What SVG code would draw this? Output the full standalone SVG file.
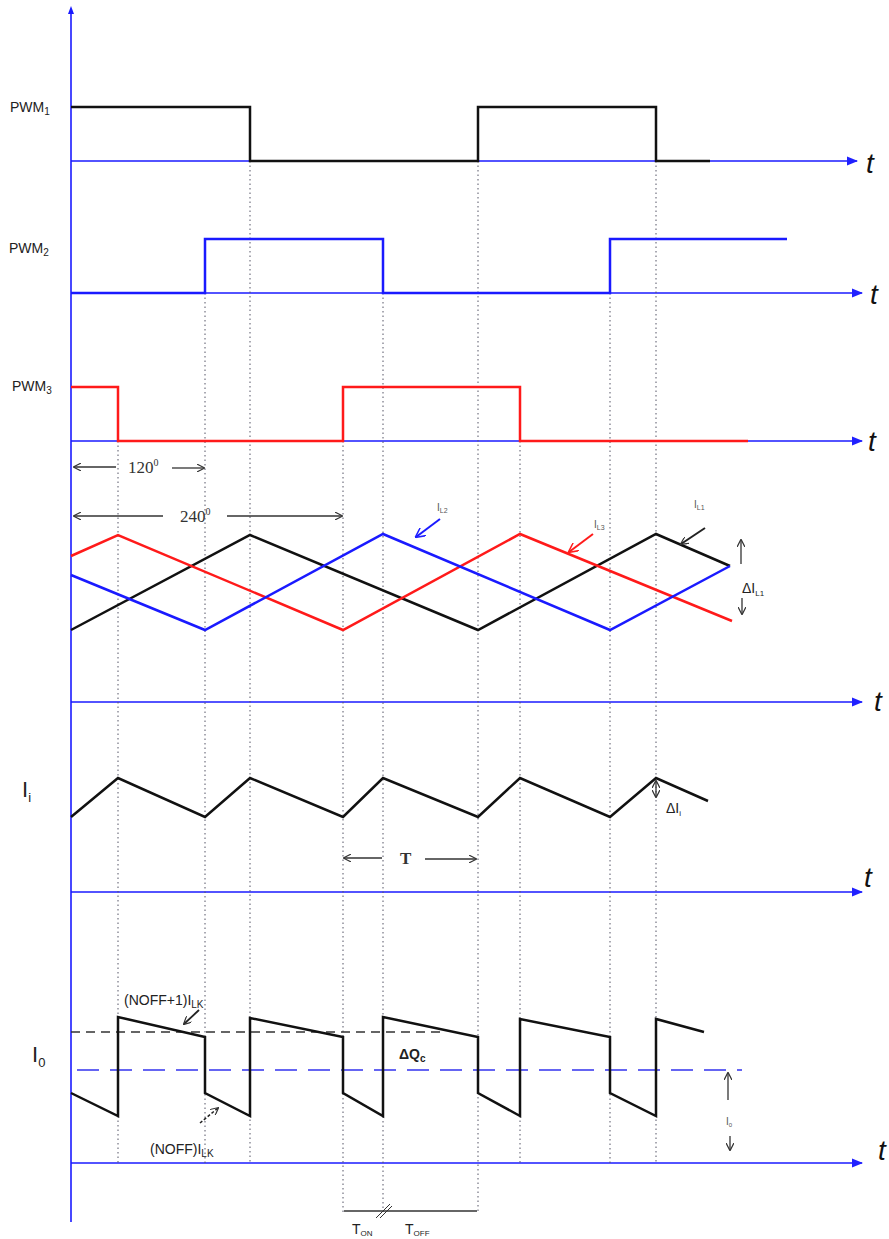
<svg xmlns="http://www.w3.org/2000/svg" width="889" height="1239" viewBox="0 0 889 1239">
<defs>
<marker id="ab" viewBox="0 0 10 10" refX="9" refY="5" markerWidth="7" markerHeight="7" orient="auto-start-reverse"><path d="M0,1 L10,5 L0,9 z" fill="#2020ff"/></marker>
<marker id="ak" viewBox="0 0 10 10" refX="9" refY="5" markerWidth="8" markerHeight="8" orient="auto-start-reverse" markerUnits="userSpaceOnUse"><path d="M0,0 L10,5 L0,10" fill="none" stroke="#333" stroke-width="1.5"/></marker>
<marker id="akb" viewBox="0 0 10 10" refX="9" refY="5" markerWidth="10" markerHeight="10" orient="auto-start-reverse" markerUnits="userSpaceOnUse"><path d="M0,0 L10,5 L0,10" fill="none" stroke="#2020ff" stroke-width="1.5"/></marker>
<marker id="akr" viewBox="0 0 10 10" refX="9" refY="5" markerWidth="10" markerHeight="10" orient="auto-start-reverse" markerUnits="userSpaceOnUse"><path d="M0,0 L10,5 L0,10" fill="none" stroke="#ff2020" stroke-width="1.5"/></marker>
</defs>
<style>
.ax{stroke:#1a1aff;stroke-width:1.6;fill:none}
.axa{stroke:#1a1aff;stroke-width:1.6;fill:none;marker-end:url(#ab)}
.dot{stroke:#556;stroke-width:1;stroke-dasharray:1.5,3;fill:none}
.wk{stroke:#111;stroke-width:2.5;fill:none;stroke-linejoin:miter}
.wb{stroke:#1a1aff;stroke-width:2.5;fill:none}
.wr{stroke:#ff1a1a;stroke-width:2.5;fill:none}
.ann{stroke:#333;stroke-width:1.3;fill:none}
.lbl{font-family:"Liberation Sans",Arial,sans-serif;font-size:14px;fill:#222}
.big{font-family:"Liberation Sans",Arial,sans-serif;font-size:22px;fill:#222}
.t{font-family:"Liberation Sans",Arial,sans-serif;font-style:italic;font-size:28px;fill:#111}
.ser{font-family:"Liberation Serif","Times New Roman",serif;font-size:17px;fill:#333}
.sm{font-family:"Liberation Sans",Arial,sans-serif;font-size:10px;fill:#555}
</style>

<g id="axes">
<line class="ax" x1="71" y1="1222" x2="71" y2="12"/>
<path d="M68,14 L71,6 L74,14 z" fill="#1a1aff"/>
<line class="axa" x1="71" y1="161" x2="857" y2="161"/>
<line class="axa" x1="71" y1="293" x2="862" y2="293"/>
<line class="axa" x1="71" y1="441" x2="862" y2="441"/>
<line class="axa" x1="71" y1="702" x2="862" y2="702"/>
<line class="axa" x1="71" y1="892" x2="862" y2="892"/>
<line class="axa" x1="71" y1="1163" x2="862" y2="1163"/>
<text class="t" x="866" y="173">t</text>
<text class="t" x="870" y="304">t</text>
<text class="t" x="868" y="451">t</text>
<text class="t" x="874" y="711">t</text>
<text class="t" x="864" y="887">t</text>
<text class="t" x="878" y="1160">t</text>
</g>

<g id="gridlines">
<line class="dot" x1="118" y1="441" x2="118" y2="1163"/>
<line class="dot" x1="205" y1="293" x2="205" y2="1163"/>
<line class="dot" x1="250" y1="161" x2="250" y2="1163"/>
<line class="dot" x1="343" y1="441" x2="343" y2="1212"/>
<line class="dot" x1="383" y1="293" x2="383" y2="1212"/>
<line class="dot" x1="478" y1="161" x2="478" y2="1212"/>
<line class="dot" x1="520" y1="441" x2="520" y2="1163"/>
<line class="dot" x1="610" y1="293" x2="610" y2="1163"/>
<line class="dot" x1="656" y1="161" x2="656" y2="1163"/>
</g>

<g id="pwm1">
<text class="lbl" x="10" y="112">PWM<tspan font-size="10" dy="3">1</tspan></text>
<polyline class="wk" points="71,107 250,107 250,161 478,161 478,107 656,107 656,161 710,161"/>
</g>
<g id="pwm2">
<text class="lbl" x="9" y="253">PWM<tspan font-size="10" dy="3">2</tspan></text>
<polyline class="wb" points="71,293 205,293 205,239 383,239 383,293 610,293 610,239 787,239"/>
</g>
<g id="pwm3">
<text class="lbl" x="12" y="391">PWM<tspan font-size="10" dy="3">3</tspan></text>
<polyline class="wr" points="71,387 118,387 118,441 343,441 343,387 520,387 520,441 748,441"/>
</g>

<g id="phase-annotations">
<line class="ann" x1="116" y1="467" x2="74" y2="467" marker-end="url(#ak)"/>
<text class="ser" x="128" y="473">120<tspan font-size="10" dy="-7">0</tspan></text>
<line class="ann" x1="172" y1="468" x2="204" y2="468" marker-end="url(#ak)"/>
<line class="ann" x1="163" y1="516" x2="74" y2="516" marker-end="url(#ak)"/>
<text class="ser" x="180" y="522">240<tspan font-size="10" dy="-7">0</tspan></text>
<line class="ann" x1="227" y1="516" x2="342" y2="516" marker-end="url(#ak)"/>
</g>

<g id="inductor-currents">
<polyline class="wk" points="71,630 250,535 478,630 656,534 730,566"/>
<polyline class="wr" points="71,556 118,535 343,630 520,534 732,621"/>
<polyline class="wb" points="71,575 205,630 383,534 610,630 730,566"/>
<text class="sm" x="437" y="511" fill="#333">I<tspan font-size="7" dy="2">L2</tspan></text>
<line x1="440" y1="519" x2="416" y2="537" stroke="#1a1aff" stroke-width="2" marker-end="url(#akb)"/>
<text class="sm" x="594" y="528">I<tspan font-size="7" dy="2">L3</tspan></text>
<line x1="593" y1="534" x2="569" y2="552" stroke="#ff1a1a" stroke-width="2" marker-end="url(#akr)"/>
<text class="sm" x="694" y="508">I<tspan font-size="7" dy="2">L1</tspan></text>
<line x1="705" y1="528" x2="681" y2="544" stroke="#222" stroke-width="2" marker-end="url(#ak)"/>
<line class="ann" x1="741" y1="564" x2="741" y2="540" marker-end="url(#ak)"/>
<text class="lbl" x="742" y="593" font-size="14">ΔI<tspan font-size="8" dy="3">L1</tspan></text>
<line class="ann" x1="742" y1="598" x2="742" y2="614" marker-end="url(#ak)"/>
</g>

<g id="input-current">
<text class="big" x="22" y="797">I<tspan font-size="13" dy="5">i</tspan></text>
<polyline class="wk" points="71,817 118,778 205,817 250,778 343,817 383,778 478,817 520,778 610,817 656,778 708,801"/>
<line class="ann" x1="656" y1="781" x2="656" y2="797" marker-start="url(#ak)" marker-end="url(#ak)"/>
<text class="lbl" x="666" y="813" font-size="15">ΔI<tspan font-size="8" dy="3">i</tspan></text>
<line class="ann" x1="382" y1="858" x2="344" y2="858" marker-end="url(#ak)"/>
<text class="ser" x="400" y="864" font-weight="bold">T</text>
<line class="ann" x1="425" y1="859" x2="476" y2="859" marker-end="url(#ak)"/>
</g>

<g id="output-current">
<text class="big" x="32" y="1062">I<tspan font-size="13" dy="5">0</tspan></text>
<line x1="71" y1="1032" x2="440" y2="1032" stroke="#333" stroke-width="1.3" stroke-dasharray="9,6"/>
<line x1="77" y1="1070" x2="742" y2="1070" stroke="#3333ee" stroke-width="1.5" stroke-dasharray="22,11"/>
<polyline class="wk" points="71,1093 118,1116 118,1017 205,1037 205,1093 250,1116 250,1018 343,1037 343,1093 383,1116 383,1017 478,1037 478,1093 520,1116 520,1019 610,1037 610,1093 656,1116 656,1019 704,1032"/>
<text class="lbl" x="124" y="1005" font-size="16">(NOFF+1)I<tspan font-size="10" dy="3">LK</tspan></text>
<line x1="199" y1="1010" x2="184" y2="1024" stroke="#222" stroke-width="1.8" marker-end="url(#ak)"/>
<text class="lbl" x="150" y="1154" font-size="16">(NOFF)I<tspan font-size="10" dy="3">LK</tspan></text>
<line x1="200" y1="1123" x2="218" y2="1108" stroke="#222" stroke-width="1.5" stroke-dasharray="3,2" marker-end="url(#ak)"/>
<text class="lbl" x="399" y="1059" font-size="17" font-weight="bold">ΔQ<tspan font-size="10" dy="3">c</tspan></text>
<line class="ann" x1="728" y1="1100" x2="728" y2="1073" marker-end="url(#ak)"/>
<text class="sm" x="726" y="1125" font-size="9">I<tspan font-size="6" dy="2">0</tspan></text>
<line class="ann" x1="730" y1="1136" x2="730" y2="1150" marker-end="url(#ak)"/>
</g>

<g id="timing">
<line class="ann" x1="344" y1="1211" x2="477" y2="1211"/>
<path d="M376,1218 L390,1204 M380,1218 L392,1206" stroke="#333" stroke-width="1"/>
<text class="lbl" x="352" y="1234" font-size="14">T<tspan font-size="8" dy="2">ON</tspan></text>
<text class="lbl" x="405" y="1234" font-size="14">T<tspan font-size="8" dy="2">OFF</tspan></text>
</g>
</svg>
